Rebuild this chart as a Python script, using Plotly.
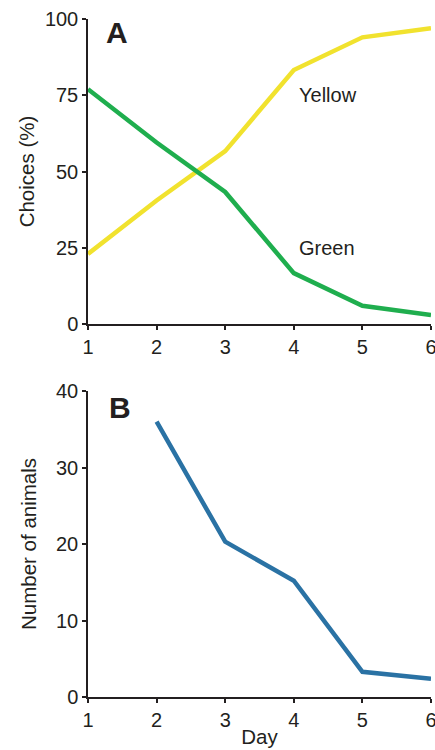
import plotly.graph_objects as go

days = [1, 2, 3, 4, 5, 6]
green = [77, 59.5, 43.3, 16.7, 6, 3]
yellow = [23, 40.5, 56.7, 83.3, 94, 97]
days_b = [2, 3, 4, 5, 6]
animals = [36, 20.3, 15.2, 3.3, 2.4]

FONT = "Liberation Sans, Arial, Helvetica, sans-serif"
INK = "#231f20"

fig = go.Figure()
fig.add_trace(go.Scatter(x=days, y=yellow, mode="lines", line=dict(color="#f1e22e", width=4.5),
                         xaxis="x", yaxis="y", showlegend=False))
fig.add_trace(go.Scatter(x=days, y=green, mode="lines", line=dict(color="#1fae4e", width=4.5),
                         xaxis="x", yaxis="y", showlegend=False))
fig.add_trace(go.Scatter(x=days_b, y=animals, mode="lines", line=dict(color="#2a72a4", width=4.5),
                         xaxis="x2", yaxis="y2", showlegend=False))

tickfont = dict(family=FONT, size=20, color=INK)
titlefont = dict(family=FONT, size=20.5, color=INK)
common_x = dict(range=[1, 6], tickvals=days, showline=True, linecolor=INK, linewidth=1.5,
                ticks="outside", ticklen=4, tickwidth=1.5, tickcolor=INK, showgrid=False,
                zeroline=False, tickfont=tickfont, fixedrange=True, automargin=False,
                ticklabeloverflow="allow")
common_y = dict(showline=True, linecolor=INK, linewidth=1.5, ticks="outside", ticklen=4,
                tickwidth=1.5, tickcolor=INK, showgrid=False, zeroline=False, tickfont=tickfont,
                automargin=False)

inner = dict(showline=False, ticks="inside", ticklen=4, tickwidth=1.5, tickcolor=INK,
             showticklabels=False, showgrid=False, zeroline=False, automargin=False)

fig.update_layout(
    width=435, height=750,
    margin=dict(l=88, r=4, t=19, b=53),
    plot_bgcolor="white", paper_bgcolor="white",
    xaxis=dict(**common_x, domain=[0, 1], anchor="y"),
    yaxis=dict(**common_y, range=[0, 100], tickvals=[0, 25, 50, 75, 100], domain=[0.55, 1],
               anchor="x", title=dict(text="Choices (%)", font=titlefont, standoff=5)),
    xaxis2=dict(**common_x, domain=[0, 1], anchor="y2",
                title=dict(text="Day", font=titlefont, standoff=0)),
    yaxis2=dict(**common_y, range=[0, 40], tickvals=[0, 10, 20, 30, 40], domain=[0, 0.4513],
                anchor="x2", title=dict(text="Number of animals", font=titlefont, standoff=14)),
    xaxis3=dict(**inner, overlaying="x", matches="x", anchor="y", tickvals=days, range=[1, 6]),
    yaxis3=dict(**inner, overlaying="y", matches="y", anchor="x", tickvals=[0, 25, 50, 75, 100], range=[0, 100]),
    xaxis4=dict(**inner, overlaying="x2", matches="x2", anchor="y2", tickvals=days, range=[1, 6]),
    yaxis4=dict(**inner, overlaying="y2", matches="y2", anchor="x2", tickvals=[0, 10, 20, 30, 40], range=[0, 40]),
    annotations=[
        dict(text="Yellow", x=4.05, y=75, xref="x", yref="y", xanchor="left", yanchor="middle",
             showarrow=False, font=dict(family=FONT, size=20, color=INK)),
        dict(text="Green", x=4.05, y=25, xref="x", yref="y", xanchor="left", yanchor="middle",
             showarrow=False, font=dict(family=FONT, size=20, color=INK)),
        dict(text="<b>A</b>", x=0.047, y=95.7, xref="x domain", yref="y", xanchor="left",
             yanchor="middle", showarrow=False, font=dict(family=FONT, size=30, color=INK)),
        dict(text="<b>B</b>", x=0.055, y=37.8, xref="x2 domain", yref="y2", xanchor="left",
             yanchor="middle", showarrow=False, font=dict(family=FONT, size=30, color=INK)),
    ],
)

fig.write_html("out.html", config={"displayModeBar": False},
               post_script="document.body.style.margin='0';document.body.style.overflow='hidden';")
